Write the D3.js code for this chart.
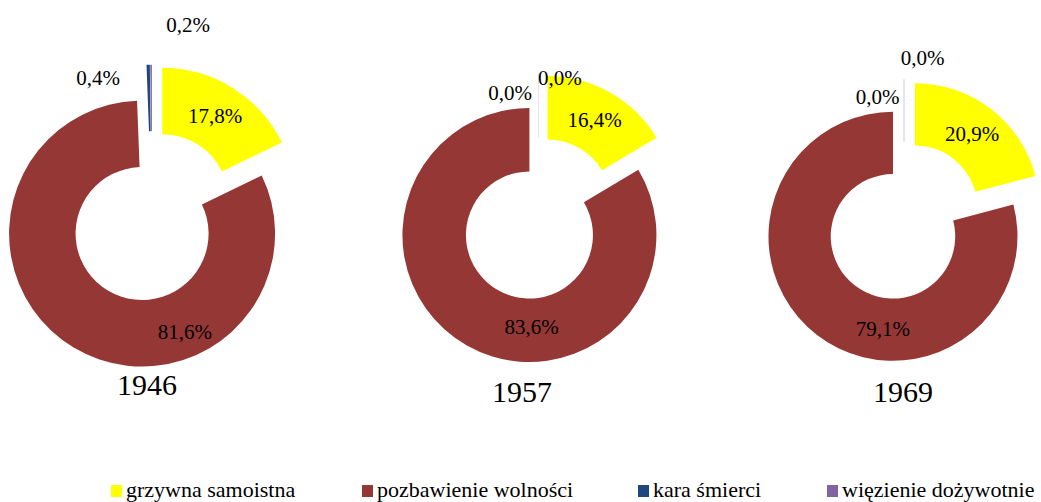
<!DOCTYPE html>
<html>
<head>
<meta charset="utf-8">
<script src="https://cdn.jsdelivr.net/npm/d3@7"></script>
<style>
  body { margin: 0; background: #fff; }
  svg { display: block; }
  text { font-family: "Liberation Serif", "Times New Roman", serif; fill: #000; }
</style>
</head>
<body>
<div id="chart"></div>
<script>
// data
const categories = ['grzywna samoistna', 'pozbawienie wolności', 'kara śmierci', 'więzienie dożywotnie'];
const years = ['1946', '1957', '1969'];
const values1946 = [17.8, 81.6, 0.4, 0.2];
const values1957 = [16.4, 83.6, 0.0, 0.0];
const values1969 = [20.9, 79.1, 0.0, 0.0];
const seriesValues = [values1946, values1957, values1969];
const colors = ['#ffff00', '#953735', '#1f497d', '#8064a2'];

// layout of each doughnut (centre, outer radius, year caption)
const layout = [
  { cx: 152, cy: 217, r: 133, yearX: 147, yearY: 395 },
  { cx: 538.5, cy: 219, r: 127, yearX: 522, yearY: 402 },
  { cx: 904, cy: 222, r: 124.5, yearX: 903, yearY: 402 }
];
// label offsets for the non-centroid labels, in units of the outer radius
// (null = use the slice centroid)
const labelOffsets = [
  [null, [0.248, 0.865], [-0.406, -1.045], [0.271, -1.444]],
  [null, [-0.054, 0.848], [-0.224, -0.992], [0.169, -1.111]],
  [null, [-0.169, 0.855], [-0.211, -1.004], [0.150, -1.317]]
];

const width = 1041, height = 502;
const svg = d3.select('#chart').append('svg')
  .attr('width', width)
  .attr('height', height);

const pie = d3.pie().sort(null).value(d => d);
const fmt = v => d3.format('.1f')(v).replace('.', ',') + '%';

seriesValues.forEach((vals, i) => {
  const L = layout[i];
  const inner = L.r * 0.5;
  const explode = L.r * 0.145;
  const arc = d3.arc().innerRadius(inner).outerRadius(L.r);
  const arcs = pie(vals);

  const g = svg.append('g').attr('transform', `translate(${L.cx},${L.cy})`);

  g.selectAll('path')
    .data(arcs)
    .enter()
    .append('path')
    .attr('transform', d => {
      const a = (d.startAngle + d.endAngle) / 2;
      return `translate(${explode * Math.sin(a)},${-explode * Math.cos(a)})`;
    })
    .attr('d', arc)
    .attr('fill', (d, j) => colors[j])
    .attr('stroke', d => d.value === 0 ? '#e4e4ec' : 'none')
    .attr('stroke-width', 1);

  // percentage labels
  g.selectAll('text.lbl')
    .data(arcs)
    .enter()
    .append('text')
    .attr('class', 'lbl')
    .attr('text-anchor', 'middle')
    .attr('dy', '0.35em')
    .style('font-size', '21px')
    .attr('transform', (d, j) => {
      const off = labelOffsets[i][j];
      if (off) return `translate(${off[0] * L.r},${off[1] * L.r})`;
      const a = (d.startAngle + d.endAngle) / 2;
      const c = arc.centroid(d);
      return `translate(${c[0] + explode * Math.sin(a)},${c[1] - explode * Math.cos(a)})`;
    })
    .text(d => fmt(d.value));

  // year caption
  svg.append('text')
    .attr('x', L.yearX)
    .attr('y', L.yearY)
    .attr('text-anchor', 'middle')
    .style('font-size', '30px')
    .text(years[i]);
});

// legend
const legendX = [111, 362, 638, 827];
const legend = svg.append('g');
categories.forEach((c, i) => {
  legend.append('rect')
    .attr('x', legendX[i])
    .attr('y', 485)
    .attr('width', 11)
    .attr('height', 12)
    .attr('fill', colors[i]);
  legend.append('text')
    .attr('x', legendX[i] + 15)
    .attr('y', 497)
    .style('font-size', '22px')
    .text(c);
});
</script>
</body>
</html>
